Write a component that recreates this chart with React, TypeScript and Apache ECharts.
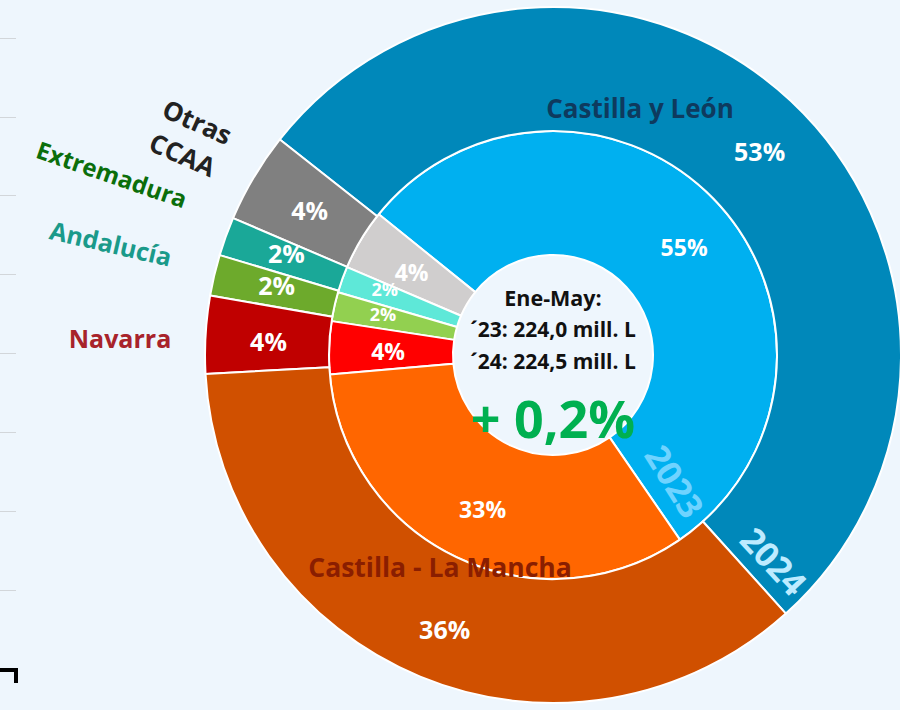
import React, { useEffect, useRef } from 'react';
import * as echarts from 'echarts';

// Data (shares in %, counter-clockwise from the Castilla y León / CLM boundary)
const regions = ['Castilla y León', 'Otras CCAA', 'Andalucía', 'Extremadura', 'Navarra', 'Castilla - La Mancha'];
const share2023 = [54.6, 4.4, 1.9, 2.1, 3.8, 33.2];
const share2024 = [52.7, 4.2, 1.8, 1.9, 3.6, 35.8];
const years = ['2023', '2024'];
const centerLines = ['Ene-May:', '´23: 224,0 mill. L', '´24: 224,5 mill. L'];
const changeLabel = '+ 0,2%';
const gridTicks = [0, 1, 2, 3, 4, 5, 6, 7];

// Styling (kept apart from the data)
const colors2023 = ['#00B0F0', '#D0CECE', '#5EE8D8', '#92D050', '#FF0000', '#FF6600'];
const colors2024 = ['#0088BA', '#808080', '#1AA898', '#6DAA2C', '#C00000', '#D05000'];
const labelNudge2023 = [[10, 4], [0, 2], [-13, -10], [-9, -5], [0, 1], [0, 5]];
const labelNudge2024 = [[9, 7], [5, 3], [5, -4], [5, -4], [4, 3], [2, 7]];

const FONT = '"Open Sans", Lato, sans-serif';

function txt(x: number, y: number, text: string, fill: string, fontSize: number, rotDeg = 0, extra: any = {}) {
  return {
    type: 'text', x, y, z: 50, rotation: (rotDeg * Math.PI) / 180, silent: true,
    style: { text, fill, fontSize, fontWeight: 'bold', fontFamily: FONT, align: 'center', verticalAlign: 'middle', ...extra },
  };
}

export default function App() {
  const ref = useRef<HTMLDivElement>(null);
  useEffect(() => {
    document.body.style.margin = '0';
    const chart = echarts.init(ref.current!, undefined, { renderer: 'svg' });
    const cx = 553, cy = 355;
    const pctFmt = (p: any) => Math.round(p.percent) + '%';
    const option: any = {
      animation: false,
      backgroundColor: '#EEF6FD',
      grid: { left: 0, width: 16, top: 38, height: 552 },
      xAxis: { type: 'value', show: false },
      yAxis: {
        type: 'value', min: 0, max: gridTicks.length - 1, interval: 1,
        axisLine: { show: false }, axisTick: { show: false }, axisLabel: { show: false },
        splitLine: { show: true, lineStyle: { color: '#D2D6DA', width: 1 } },
      },
      series: [
        {
          name: years[0], type: 'pie', center: [cx, cy], radius: [100, 224],
          startAngle: -55.5, clockwise: false, silent: true,
          itemStyle: { borderColor: '#FFFFFF', borderWidth: 2 },
          label: { show: true, position: 'inside', formatter: pctFmt, color: '#FFFFFF', fontFamily: FONT, fontWeight: 'bold', fontSize: 23 },
          labelLine: { show: false },
          labelLayout: (p: any) => ({ dx: labelNudge2023[p.dataIndex][0], dy: labelNudge2023[p.dataIndex][1] }),
          data: regions.map((n, i) => ({
            name: n, value: share2023[i], itemStyle: { color: colors2023[i] },
            label: share2023[i] < 3 ? { fontSize: 18, lineHeight: 18 } : {},
          })),
        },
        {
          name: years[1], type: 'pie', center: [cx, cy], radius: [224, 348],
          startAngle: -48, clockwise: false, silent: true,
          itemStyle: { borderColor: '#FFFFFF', borderWidth: 2 },
          label: { show: true, position: 'inside', formatter: pctFmt, color: '#FFFFFF', fontFamily: FONT, fontWeight: 'bold', fontSize: 25 },
          labelLine: { show: false },
          labelLayout: (p: any) => ({ dx: labelNudge2024[p.dataIndex][0], dy: labelNudge2024[p.dataIndex][1] }),
          data: regions.map((n, i) => ({ name: n, value: share2024[i], itemStyle: { color: colors2024[i] } })),
        },
      ],
      graphic: [
        { type: 'line', shape: { x1: 0, y1: 670, x2: 18, y2: 670 }, style: { stroke: '#000', lineWidth: 4 } },
        { type: 'line', shape: { x1: 16, y1: 668, x2: 16, y2: 683 }, style: { stroke: '#000', lineWidth: 4 } },
        txt(640, 108, regions[0], '#0E3A5E', 26),
        txt(440, 567, regions[5], '#8A1E00', 26.5),
        txt(190, 138, 'Otras\nCCAA', '#222222', 26, -24, { lineHeight: 36 }),
        txt(112, 174, regions[3], '#0B6E0B', 24, -19),
        txt(111, 243, regions[2], '#1A9A8A', 25, -13),
        txt(120, 338, regions[4], '#A8232B', 25),
        txt(675, 481, years[0], '#6FD3FF', 34, -58),
        txt(774, 561, years[1], '#BDEBFF', 34, -47),
        txt(cx, 297, centerLines[0], '#111111', 21.5),
        txt(cx, 329, centerLines[1], '#111111', 21),
        txt(cx, 361, centerLines[2], '#111111', 21),
        txt(cx, 417, changeLabel, '#00B050', 52),
      ],
    };
    chart.setOption(option);
    return () => chart.dispose();
  }, []);
  return <div ref={ref} style={{ width: 900, height: 710 }} />;
}
